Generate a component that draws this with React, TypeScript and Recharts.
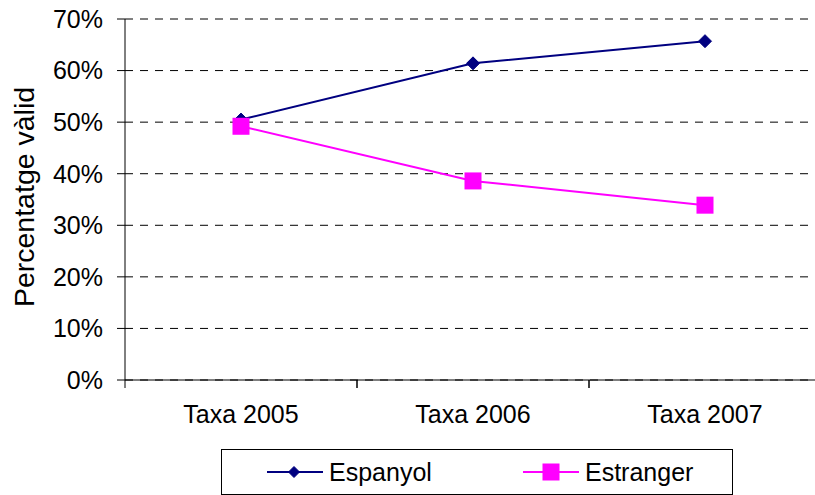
import { LineChart, Line, XAxis, YAxis, CartesianGrid, Legend } from "recharts";

const categories = ["Taxa 2005", "Taxa 2006", "Taxa 2007"];
const espanyol = [50.5, 61.4, 65.7];
const estranger = [49.2, 38.6, 33.9];
const yTicks = [0, 10, 20, 30, 40, 50, 60, 70];

const data = categories.map((name, i) => ({
  name,
  espanyol: espanyol[i],
  estranger: estranger[i],
}));

const FONT = '"Liberation Sans", Arial, sans-serif';
const NAVY = "#000080";
const PINK = "#FF00FF";

const Diamond = ({ cx, cy, r = 6.5 }: any) => (
  <path
    d={`M${cx},${cy - r} L${cx + r},${cy} L${cx},${cy + r} L${cx - r},${cy} Z`}
    fill={NAVY}
    stroke={NAVY}
    strokeWidth={1}
  />
);

const Square = ({ cx, cy, s = 17 }: any) => (
  <rect x={cx - s / 2} y={cy - s / 2} width={s} height={s} fill={PINK} />
);

// label + tick marks on the band boundaries (like Excel)
const XTick = (props: any) => {
  const { x, y, payload, width, visibleTicksCount } = props;
  const half = width && visibleTicksCount ? width / visibleTicksCount / 2 : 116;
  return (
    <g>
      <line x1={x - half} x2={x - half} y1={y - 25} y2={y - 17} stroke="#000" />
      <line x1={x + half} x2={x + half} y1={y - 25} y2={y - 17} stroke="#000" />
      <text x={x} y={y} dy="0.71em" textAnchor="middle" fontSize={25} fontFamily={FONT} fill="#000">
        {payload.value}
      </text>
    </g>
  );
};

const renderLegend = () => (
  <div
    style={{
      position: "relative",
      width: 512,
      height: 46,
      boxSizing: "border-box",
      border: "1px solid #000",
      background: "#fff",
      fontFamily: FONT,
      fontSize: 25,
      color: "#000",
    }}
  >
    <div style={{ position: "absolute", left: 45, top: 8, display: "flex", alignItems: "center" }}>
      <svg width={56} height={24}>
        <line x1={0} x2={56} y1={12} y2={12} stroke={NAVY} strokeWidth={2} />
        <Diamond cx={27} cy={12} r={5.5} />
      </svg>
      <span style={{ marginLeft: 6, lineHeight: "28px" }}>Espanyol</span>
    </div>
    <div style={{ position: "absolute", left: 301, top: 8, display: "flex", alignItems: "center" }}>
      <svg width={56} height={24}>
        <line x1={0} x2={56} y1={12} y2={12} stroke={PINK} strokeWidth={2} />
        <Square cx={28} cy={12} s={17} />
      </svg>
      <span style={{ marginLeft: 6, lineHeight: "28px" }}>Estranger</span>
    </div>
  </div>
);

export default function App() {
  return (
    <div
      style={{
        position: "fixed",
        left: 0,
        top: 0,
        width: 815,
        height: 495,
        overflow: "hidden",
        background: "#fff",
      }}
    >
      <LineChart
        width={830}
        height={495}
        data={data}
        margin={{ top: 19, right: 9, bottom: 75, left: 0 }}
      >
        <CartesianGrid vertical={false} stroke="#000" strokeDasharray="8 7" />
        <XAxis
          dataKey="name"
          scale="band"
          height={40}
          stroke="#000"
          tickLine={false}
          tickSize={8}
          tickMargin={17}
          tick={<XTick />}
          interval={0}
        />
        <YAxis
          width={125}
          domain={[0, 70]}
          ticks={yTicks}
          interval={0}
          stroke="#000"
          tickSize={8}
          tickMargin={14}
          tickFormatter={(v: number) => `${v}%`}
          tick={{ fontSize: 25, fontFamily: FONT, fill: "#000" }}
          label={{
            content: () => (
              <text
                x={34}
                y={197}
                transform="rotate(-90 34 197)"
                textAnchor="middle"
                fontSize={28.5}
                fontFamily={FONT}
                fill="#000"
              >
                Percentatge vàlid
              </text>
            ),
          }}
        />
        <Legend
          layout="horizontal"
          verticalAlign="middle"
          align="center"
          content={renderLegend}
          wrapperStyle={{ left: 221, top: 449, width: 512, height: 46 }}
        />
        <Line
          dataKey="espanyol"
          name="Espanyol"
          stroke={NAVY}
          strokeWidth={2}
          isAnimationActive={false}
          dot={(p: any) => <Diamond key={`d${p.index}`} cx={p.cx} cy={p.cy} />}
        />
        <Line
          dataKey="estranger"
          name="Estranger"
          stroke={PINK}
          strokeWidth={2}
          isAnimationActive={false}
          dot={(p: any) => <Square key={`s${p.index}`} cx={p.cx} cy={p.cy} />}
        />
      </LineChart>
    </div>
  );
}
